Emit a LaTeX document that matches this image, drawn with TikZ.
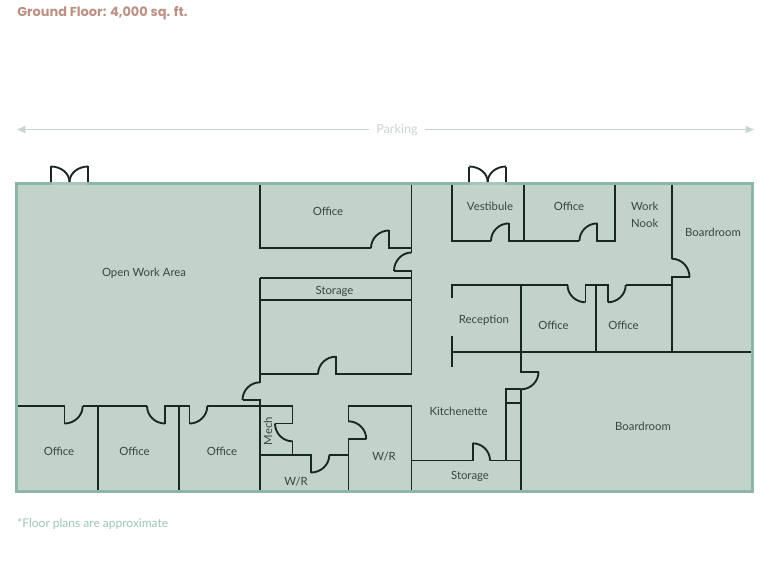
\documentclass[tikz,border=0pt]{standalone}
\usepackage{fontspec}
\setmainfont{Lato}
\newfontfamily\titlefont{Poppins}
\usetikzlibrary{arrows.meta,calc}
\definecolor{floorfill}{HTML}{C1D3CA}
\definecolor{floorline}{HTML}{8DB6A9}
\definecolor{doorgap}{HTML}{A9C6BB}
\definecolor{wallcol}{HTML}{1A2622}
\definecolor{labelcol}{HTML}{3A4541}
\definecolor{titlecol}{HTML}{BC9082}
\definecolor{parkcol}{HTML}{C8D6D0}
\definecolor{notecol}{HTML}{9CC4B7}
\tikzset{
  wall/.style={draw=wallcol,line width=1.4pt,line cap=butt,line join=miter},
  room/.style={font=\fontsize{8.5}{10}\selectfont,text=labelcol,inner sep=0pt,align=center},
  parkline/.style={parkcol,line width=1.3pt,-{Latex[length=7pt,width=6pt]}},
}
\newcommand{\swing}[6]{\draw[wall] (#1,#2) .. controls ($(#1,#2)!0.55!(#3,#4)$) and ($(#5,#6)!0.55!(#3,#4)$) .. (#5,#6);}
\begin{document}
\begin{tikzpicture}[x=0.75pt,y=-0.75pt]
\useasboundingbox (0,0) rectangle (777,562);
\node[anchor=west,inner sep=0pt,text=titlecol,font=\titlefont\bfseries\fontsize{9.7}{11}\selectfont] (title) at (17,13.3) {Ground Floor: 4,000 sq. ft.};
% parking
\node[inner sep=0pt,minimum width=42pt,minimum height=10pt,text=parkcol,font=\fontsize{9.5}{10}\selectfont] (parking) at (397,129.5) {Parking};
\coordinate (parkL) at (16,129.5);
\coordinate (parkR) at (755,129.5);
\draw[parkline] (parking) -- (parkL);
\draw[parkline] (parking) -- (parkR);
% floor
\draw[floorline,fill=floorfill,line width=2.2pt] (16.5,183.5) rectangle (752.5,491.5);
\draw[doorgap,line width=2.2pt] (52,183.5) -- (87,183.5);
\draw[doorgap,line width=2.2pt] (470,183.5) -- (505,183.5);
% entrance doors
\draw[wall] (51,182) -- (51,166.5) -- (52,166.5);
\swing{51}{166.5}{69.5}{166.5}{69.5}{182}
\draw[wall] (88,182) -- (88,166.5) -- (87,166.5);
\swing{88}{166.5}{69.5}{166.5}{69.5}{182}
\draw[wall] (469.3,182) -- (469.3,166.5);
\swing{469.3}{166.5}{487.7}{166.5}{487.7}{182}
\draw[wall] (506,182) -- (506,166.5);
\swing{506}{166.5}{487.7}{166.5}{487.7}{182}
% top office and storage block
\draw[wall] (260,184.5) -- (260,248) -- (371,248);
\swing{371}{248}{371}{230.5}{389}{230.5}
\draw[wall] (389,230) -- (389,248) -- (411.5,248);
\draw[wall] (411.5,184.5) -- (411.5,253);
\swing{411.5}{252.5}{394}{252.5}{394}{271}
\draw[wall] (394,271) -- (411.5,271) -- (411.5,374.6);
\draw[wall] (260,278.3) -- (411.5,278.3);
\draw[wall] (260,300.3) -- (411.5,300.3);
\draw[wall] (260,277.7) -- (260,382.8);
\swing{260}{382.3}{242.5}{382.3}{242.5}{400}
\draw[wall] (242.5,400) -- (260,400) -- (260,490);
\draw[wall] (260,374.3) -- (318,374.3);
\swing{318}{374.3}{318}{356.7}{335.7}{356.7}
\draw[wall] (335.7,356.2) -- (335.7,374.3) -- (411.5,374.3);
% lower left offices
\draw[wall] (18,406) -- (64.5,406) -- (64.5,423.5);
\swing{64.5}{423.5}{82.7}{423.5}{82.7}{406}
\draw[wall] (82.7,406) -- (147,406);
\swing{147}{406}{147}{423.5}{165}{423.5}
\draw[wall] (165,423.5) -- (165,406) -- (189.5,406) -- (189.5,423.5);
\swing{189.5}{423.5}{207.3}{423.5}{207.3}{406}
\draw[wall] (207.3,406) -- (292.5,406) -- (292.5,423.5) -- (275,423.5);
\draw[wall] (98,406) -- (98,490);
\draw[wall] (179,406) -- (179,490);
% mech and wash rooms
\swing{275}{423.5}{275}{441.3}{292.5}{441.3}
\draw[wall] (292.5,441.3) -- (292.5,455);
\draw[wall] (260,455) -- (311,455) -- (311,472.5);
\swing{311}{472.5}{329.3}{472.5}{329.3}{455}
\draw[wall] (329.3,455) -- (348.5,455);
\draw[wall] (411.5,490) -- (411.5,406) -- (348.5,406) -- (348.5,421.5);
\swing{348.5}{421.3}{366.3}{421.3}{366.3}{439.3}
\draw[wall] (366.3,439.3) -- (348.5,439.3) -- (348.5,490);
% kitchenette and storage
\draw[wall] (411.5,460.5) -- (472.7,460.5) -- (472.7,443.3);
\swing{472.7}{443.3}{490}{443.3}{490}{460.5}
\draw[wall] (490,460.5) -- (521,460.5);
\draw[wall] (506,460.5) -- (506,389.3) -- (521,389.3);
\draw[wall] (506,402.7) -- (521,402.7);
\draw[wall] (521,389) -- (521,490);
\swing{521}{389.3}{538.5}{389.3}{538.5}{372}
\draw[wall] (538.5,372) -- (521,372) -- (521,285);
\draw[wall] (451.7,352.3) -- (751,352.3);
% reception row
\draw[wall] (451.7,298.3) -- (451.7,285) -- (567.5,285);
\draw[wall] (451.7,336) -- (451.7,367.3);
\swing{567.5}{285}{567.5}{302.3}{585.5}{302.3}
\draw[wall] (585.5,302.3) -- (585.5,285) -- (607.7,285) -- (607.7,302.3);
\swing{607.7}{302.3}{625.7}{302.3}{625.7}{285}
\draw[wall] (625.7,285) -- (671.7,285);
\draw[wall] (596.4,285) -- (596.4,352.3);
\draw[wall] (671.7,184.5) -- (671.7,259);
\swing{671.7}{258.7}{689.5}{258.7}{689.5}{277}
\draw[wall] (689.5,277) -- (671.7,277) -- (671.7,352.3);
% top right offices
\draw[wall] (451.7,184.5) -- (451.7,241) -- (491,241);
\swing{491}{241}{491}{223.4}{508.8}{223.4}
\draw[wall] (508.8,223) -- (508.8,241) -- (579.4,241);
\swing{579.4}{241}{579.4}{223.4}{597.3}{223.4}
\draw[wall] (597.3,223) -- (597.3,241) -- (615.3,241) -- (615.3,184.5);
\draw[wall] (524.3,184.5) -- (524.3,241);
% labels
\node[room] (l1) at (144,273.1) {Open Work Area};
\node[room] (l2) at (328,211.6) {Office};
\node[room] (l3) at (334.5,291.1) {Storage};
\node[room] (l4) at (490,206.6) {Vestibule};
\node[room] (l5) at (569,206.6) {Office};
\node[room] (l6a) at (644.7,206.6) {Work};
\node[room] (l6b) at (644.7,223.6) {Nook};
\node[room] (l7) at (713,232.6) {Boardroom};
\node[room] (l8) at (484,320.1) {Reception};
\node[room] (l9) at (553.5,325.6) {Office};
\node[room] (l10) at (623.5,325.6) {Office};
\node[room] (l11) at (458.5,411.6) {Kitchenette};
\node[room] (l12) at (643,426.6) {Boardroom};
\node[room] (l13) at (470,476.6) {Storage};
\node[room] (l14) at (384,456.6) {W/R};
\node[room] (l15) at (296,481.6) {W/R};
\node[room,rotate=90] (l16) at (268,431) {Mech};
\node[room] (l17) at (59,451.6) {Office};
\node[room] (l18) at (134.5,451.6) {Office};
\node[room] (l19) at (222,451.6) {Office};
\node[anchor=west,inner sep=0pt,text=notecol,font=\fontsize{9}{10}\selectfont] (note) at (17,523.6) {*Floor plans are approximate};
\end{tikzpicture}
\end{document}
